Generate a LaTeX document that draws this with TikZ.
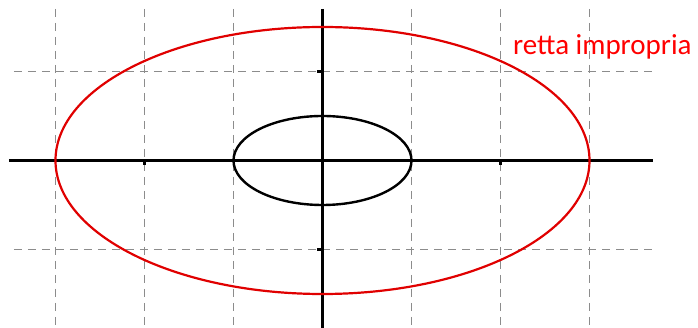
\documentclass[tikz,border=0pt]{standalone}
\usepackage{fontspec}
\setmainfont{Carlito}
\begin{document}
\begin{tikzpicture}[x=1pt,y=1pt,
  gridline/.style={draw=black!45,line width=1.3pt,dash pattern=on 8pt off 6pt},
  axisline/.style={draw=black,line width=2.2pt},
  tickline/.style={draw=black,line width=2.2pt},
  curveblack/.style={draw=black,line width=2.4pt},
  curvered/.style={draw=red!88!black,line width=2.2pt},
  lbl/.style={text=red,font=\fontsize{29}{32}\selectfont,inner sep=0pt,anchor=base west}]
\useasboundingbox (-322.5,-167.5) rectangle (375.5,160.5);
\def\u{89}
% dashed grid
\foreach \i in {-3,-2,-1,1,2,3}
  \draw[gridline] (\i*\u,151.5) -- (\i*\u,-167.5);
\foreach \j in {-1,1}
  \draw[gridline] (-308.5,\j*\u) -- (329.5,\j*\u);
% axes
\coordinate (xl) at (-313.5,0);
\coordinate (xr) at (330.5,0);
\coordinate (yt) at (0,151.5);
\coordinate (yb) at (0,-167.5);
\draw[axisline] (xl) -- (xr);
\draw[axisline] (yt) -- (yb);
% ticks
\foreach \i in {-2,2}
  \draw[tickline] (\i*\u,0) -- (\i*\u,-5);
\foreach \j in {-1,1}
  \draw[tickline] (0,\j*\u) -- (-6,\j*\u);
% ellipses
\draw[curveblack] (0,0) ellipse [x radius=\u, y radius=44.5];
\draw[curvered] (0,0) ellipse [x radius=3*\u, y radius=133.5];
% label
\node[lbl] (label) at (190.5,105.5) {retta impropria};
\end{tikzpicture}
\end{document}
